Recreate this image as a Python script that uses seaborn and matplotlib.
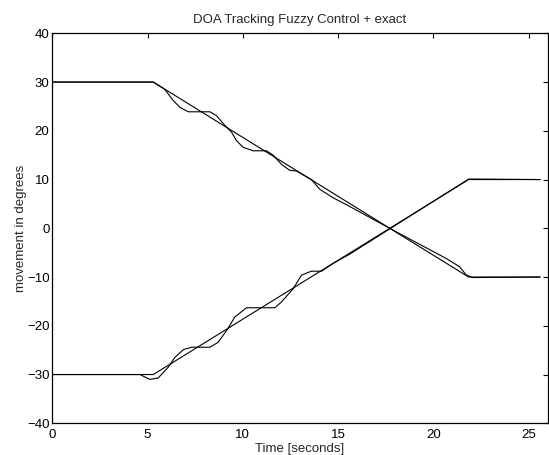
import matplotlib
matplotlib.use("Agg")
import matplotlib.pyplot as plt
import seaborn as sns
import pandas as pd

# Exact trajectories
t_exact = [0, 5.3, 21.85, 25.6]
exact_desc = [30, 30, -10, -10]
exact_asc = [-30, -30, 10, 10]

# Fuzzy-control tracked trajectories
t_fuzzy_desc = [0, 5.3, 5.9, 6.35, 6.7, 7.13, 8.27, 8.62, 9.06, 9.41, 9.67, 10.02,
                10.54, 11.24, 11.59, 12.03, 12.46, 12.82, 13.6, 14.04, 14.74, 15.6,
                17.8, 20.68, 21.38, 21.73, 22.08, 25.6]
fuzzy_desc = [30, 30, 28.5, 26.2, 24.8, 23.9, 23.9, 23.1, 21.1, 19.7, 17.95, 16.6,
              15.9, 15.9, 15.0, 13.1, 11.9, 11.75, 10.0, 8.0, 6.25, 4.5,
              -0.2, -6.2, -7.9, -9.6, -10.1, -10]
t_fuzzy_asc = [0, 4.6, 5.12, 5.56, 6.08, 6.43, 6.87, 7.31, 8.27, 8.70, 9.15, 9.58,
               10.19, 11.68, 12.03, 12.64, 13.08, 13.60, 14.13, 14.74, 15.61, 21.85,
               22.3, 25.6]
fuzzy_asc = [-30, -30, -31.0, -30.7, -28.5, -26.5, -24.9, -24.4, -24.4, -23.4, -20.95,
             -18.2, -16.3, -16.3, -15.1, -12.4, -9.6, -8.8, -8.8, -7.2, -5.3, 10.1,
             10.1, 10]

title = "DOA Tracking Fuzzy Control + exact"
xlabel = "Time [seconds]"
ylabel = "movement in degrees"
xticks = [0, 5, 10, 15, 20, 25]
yticks = [-40, -30, -20, -10, 0, 10, 20, 30, 40]

frames = []
for name, t, v in [("exact_desc", t_exact, exact_desc),
                   ("exact_asc", t_exact, exact_asc),
                   ("fuzzy_desc", t_fuzzy_desc, fuzzy_desc),
                   ("fuzzy_asc", t_fuzzy_asc, fuzzy_asc)]:
    frames.append(pd.DataFrame({"t": t, "v": v, "series": name}))
df = pd.concat(frames, ignore_index=True)

sns.set_style("white")
plt.rcParams["font.family"] = ["Liberation Sans", "DejaVu Sans"]
plt.rcParams["axes.unicode_minus"] = True

fig = plt.figure(figsize=(5.49, 4.55), dpi=100)
ax = fig.add_axes([0.0953, 0.0697, 0.9976 - 0.0953, 0.9268 - 0.0697])

sns.lineplot(data=df, x="t", y="v", hue="series", units="series", estimator=None,
             sort=False, palette=["black"] * 4, legend=False, linewidth=0.8, ax=ax)

ax.set_xlim(0, 26)
ax.set_ylim(-40, 40)
ax.set_xticks(xticks)
ax.set_yticks(yticks)
ax.tick_params(direction="in", length=3.6, width=0.8, labelsize=9.5, colors="black",
               top=True, right=True)
ax.tick_params(axis="x", pad=4)
ax.tick_params(axis="y", pad=2)
for s in ax.spines.values():
    s.set_visible(True)
    s.set_color("black")
    s.set_linewidth(0.9)
ax.set_title(title, fontsize=9.5, pad=7.5)
ax.set_xlabel(xlabel, fontsize=9.5, labelpad=1.5)
ax.set_ylabel(ylabel, fontsize=9.5, labelpad=0)

fig.savefig("out.png", dpi=100)
